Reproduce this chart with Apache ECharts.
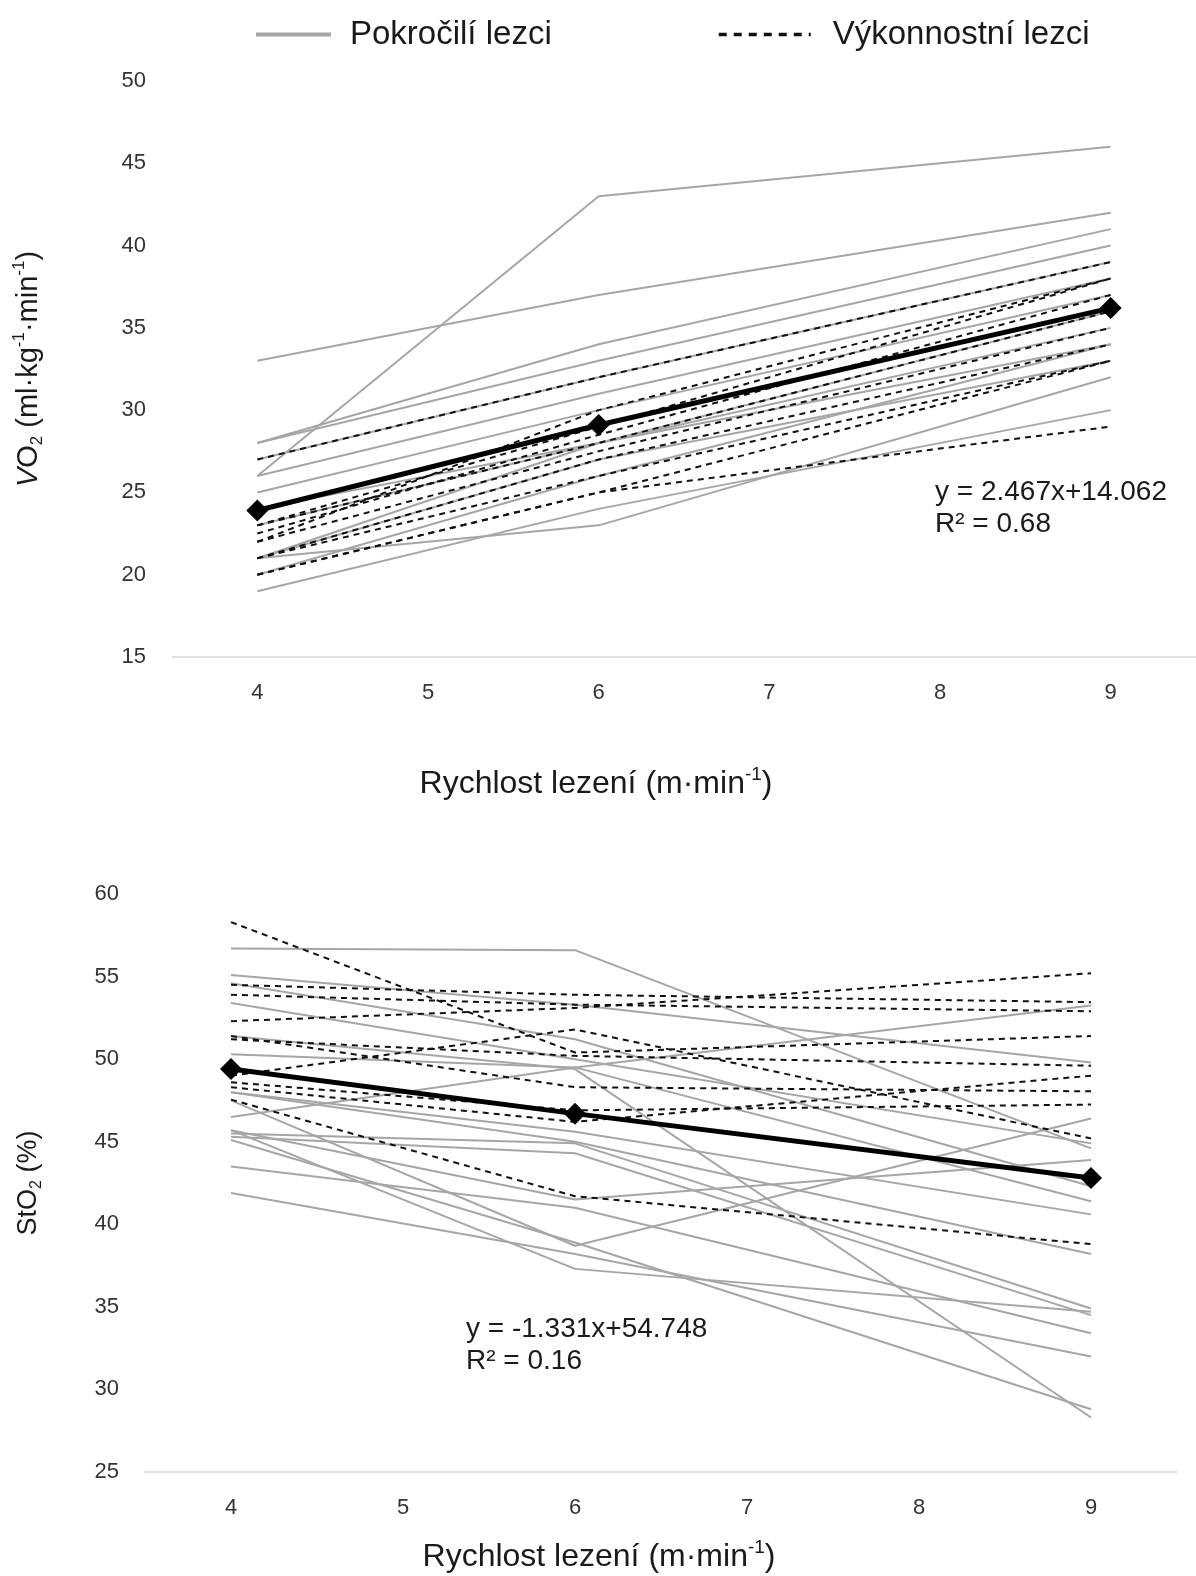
<!DOCTYPE html>
<html>
<head>
<meta charset="utf-8">
<script src="https://cdn.jsdelivr.net/npm/echarts@6/dist/echarts.min.js"></script>
<style>
html,body{margin:0;padding:0;background:#fff;}
#chart{width:1196px;height:1576px;}
</style>
</head>
<body>
<div id="chart"></div>
<script>
// ---------- data ----------
const categories = ['4', '5', '6', '7', '8', '9'];
const measuredSpeeds = ['4', '6', '9'];
const legendNames = ['Pokročilí lezci', 'Výkonnostní lezci'];

// VO2 (ml·kg-1·min-1) at speeds 4, 6, 9
const vo2Pokrocili = [
  [33, 37, 42], [26, 43, 46], [28, 34, 41], [28, 33, 40], [27, 32, 39],
  [26, 31, 38], [25, 30, 37], [23, 28, 36], [24, 28, 35], [21, 28, 34],
  [21, 27, 33], [20, 26, 34], [19, 24, 30], [21, 23, 32]
];
const vo2Vykonnostni = [
  [27, 32, 39], [22, 30, 38], [23, 29, 38], [23, 28, 36], [22, 27.5, 35],
  [21, 27, 34], [21, 26, 33], [20, 25, 33], [20, 25, 29], [22.5, 28.5, 37]
];
const vo2Mean = [23.9, 29.1, 36.2];

// StO2 (%) at speeds 4, 6, 9
const sto2Pokrocili = [
  [56.7, 56.6, 44.6], [55.1, 53.3, 49.8], [54.6, 51.2, 42.3], [53.4, 50.0, 44.9],
  [51.4, 49.4, 28.3], [50.3, 49.5, 41.4], [48.0, 45.6, 40.6], [46.5, 49.5, 53.25],
  [47.5, 38.7, 46.4], [45.7, 41.5, 43.9], [45.5, 44.9, 34.9], [45.3, 44.3, 34.5],
  [45.1, 38.9, 28.8], [45.7, 37.3, 34.7], [43.5, 41.0, 33.4], [41.9, 38.2, 32.0],
  [48.0, 45.0, 38.2]
];
const sto2Vykonnostni = [
  [58.3, 50.4, 51.4], [54.5, 53.9, 53.45], [53.9, 53.3, 52.9], [52.3, 53.1, 55.2],
  [51.2, 50.2, 49.6], [51.4, 48.3, 48.05], [49.0, 51.8, 45.2], [48.6, 46.9, 47.25],
  [48.3, 46.2, 49.0], [47.55, 41.7, 38.8]
];
const sto2Mean = [49.4, 46.7, 42.8];

const vo2Ticks = [15, 50, 5];
const sto2Ticks = [25, 60, 5];
const vo2Equation = ['y = 2.467x+14.062', 'R² = 0.68'];
const sto2Equation = ['y = -1.331x+54.748', 'R² = 0.16'];

// ---------- helpers ----------
const FONT = "'Liberation Sans', Arial, sans-serif";
const GREY = '#a6a6a6';
const INK = '#1a1a1a';
const toPairs = vals => vals.map((v, i) => [measuredSpeeds[i], v]);

function groupSeries(rows, idx, name, style) {
  return rows.map(r => ({
    type: 'line', name: name, xAxisIndex: idx, yAxisIndex: idx,
    data: toPairs(r), symbol: 'none', silent: true, animation: false,
    itemStyle: { color: style.color },
    lineStyle: style, z: 2
  }));
}
function meanSeries(vals, idx) {
  return {
    type: 'line', name: 'mean' + idx, xAxisIndex: idx, yAxisIndex: idx,
    data: toPairs(vals), symbol: 'diamond', symbolSize: 22, showSymbol: true,
    itemStyle: { color: '#000' }, lineStyle: { color: '#000', width: 5 },
    animation: false, z: 5
  };
}
const greyStyle = { color: GREY, width: 2, type: 'solid' };
const dashStyle = { color: '#111', width: 2, type: [6, 5] };

function richName(fs) {
  return {
    n: { fontSize: fs, fontFamily: FONT, color: INK, lineHeight: fs + 6 },
    i: { fontSize: fs, fontFamily: FONT, color: INK, fontStyle: 'italic', lineHeight: fs + 6 },
    sub: { fontSize: Math.round(fs * 0.58), fontFamily: FONT, color: INK, verticalAlign: 'bottom', lineHeight: fs + 6 },
    sup: { fontSize: Math.round(fs * 0.58), fontFamily: FONT, color: INK, verticalAlign: 'top', lineHeight: fs + 6 }
  };
}

function xAxis(idx, gap, shiftPad) {
  return {
    type: 'category', gridIndex: idx, data: categories, boundaryGap: true,
    axisLine: { lineStyle: { color: '#d9d9d9', width: 1.5 } },
    axisTick: { show: false },
    axisLabel: { fontSize: 22, fontFamily: FONT, color: '#333', margin: 25 },
    splitLine: { show: false },
    name: '{n|Rychlost lezení (m·min}{sup|-1}{n|)}',
    nameLocation: 'middle', nameGap: gap,
    nameTextStyle: { rich: richName(32), padding: [0, shiftPad, 0, 0] }
  };
}
function yAxis(idx, ticks, name, gap, fs) {
  return {
    type: 'value', gridIndex: idx, min: ticks[0], max: ticks[1], interval: ticks[2],
    axisLine: { show: false }, axisTick: { show: false },
    axisLabel: { fontSize: 22, fontFamily: FONT, color: '#333', margin: 26 },
    splitLine: { show: false },
    name: name, nameLocation: 'middle', nameGap: gap, nameRotate: 90,
    nameTextStyle: { rich: richName(fs) }
  };
}
function eqText(lines, left, top) {
  return lines.map((t, k) => ({
    type: 'text', left: left, top: top + k * 32,
    style: { text: t, fontSize: 28, fontFamily: FONT, fill: INK }
  }));
}
function legendItem(name, left, w, pad, lineStyle) {
  return {
    data: [name], left: left, top: 13,
    itemWidth: w, itemHeight: 14,
    itemStyle: { opacity: 0 },
    lineStyle: lineStyle,
    textStyle: { fontSize: 33, fontFamily: FONT, color: INK, padding: [0, 0, 0, pad] },
    selectedMode: false
  };
}

const option = {
  backgroundColor: '#fff',
  animation: false,
  legend: [
    legendItem(legendNames[0], 249, 75, 14, { width: 4 }),
    legendItem(legendNames[1], 712, 92, 17, { width: 3.5, type: [8, 7] })
  ],
  grid: [
    { left: 172, top: 81, width: 1032, height: 576 },
    { left: 145, top: 894, width: 1032, height: 578 }
  ],
  xAxis: [xAxis(0, 108, 176), xAxis(1, 66, 124)],
  yAxis: [
    yAxis(0, vo2Ticks, '{i|V}{n|O}{sub|2}{n| (ml·kg}{sup|-1}{n|·min}{sup|-1}{n|)}', 126, 29),
    yAxis(1, sto2Ticks, '{n|StO}{sub|2}{n| (%)}', 100, 27)
  ],
  graphic: [].concat(eqText(vo2Equation, 935, 478), eqText(sto2Equation, 466, 1315)),
  series: [].concat(
    groupSeries(vo2Pokrocili, 0, legendNames[0], greyStyle),
    groupSeries(vo2Vykonnostni, 0, legendNames[1], dashStyle),
    [meanSeries(vo2Mean, 0)],
    groupSeries(sto2Pokrocili, 1, legendNames[0], greyStyle),
    groupSeries(sto2Vykonnostni, 1, legendNames[1], dashStyle),
    [meanSeries(sto2Mean, 1)]
  )
};

const chart = echarts.init(document.getElementById('chart'), null, { renderer: 'canvas' });
chart.setOption(option);
</script>
</body>
</html>
